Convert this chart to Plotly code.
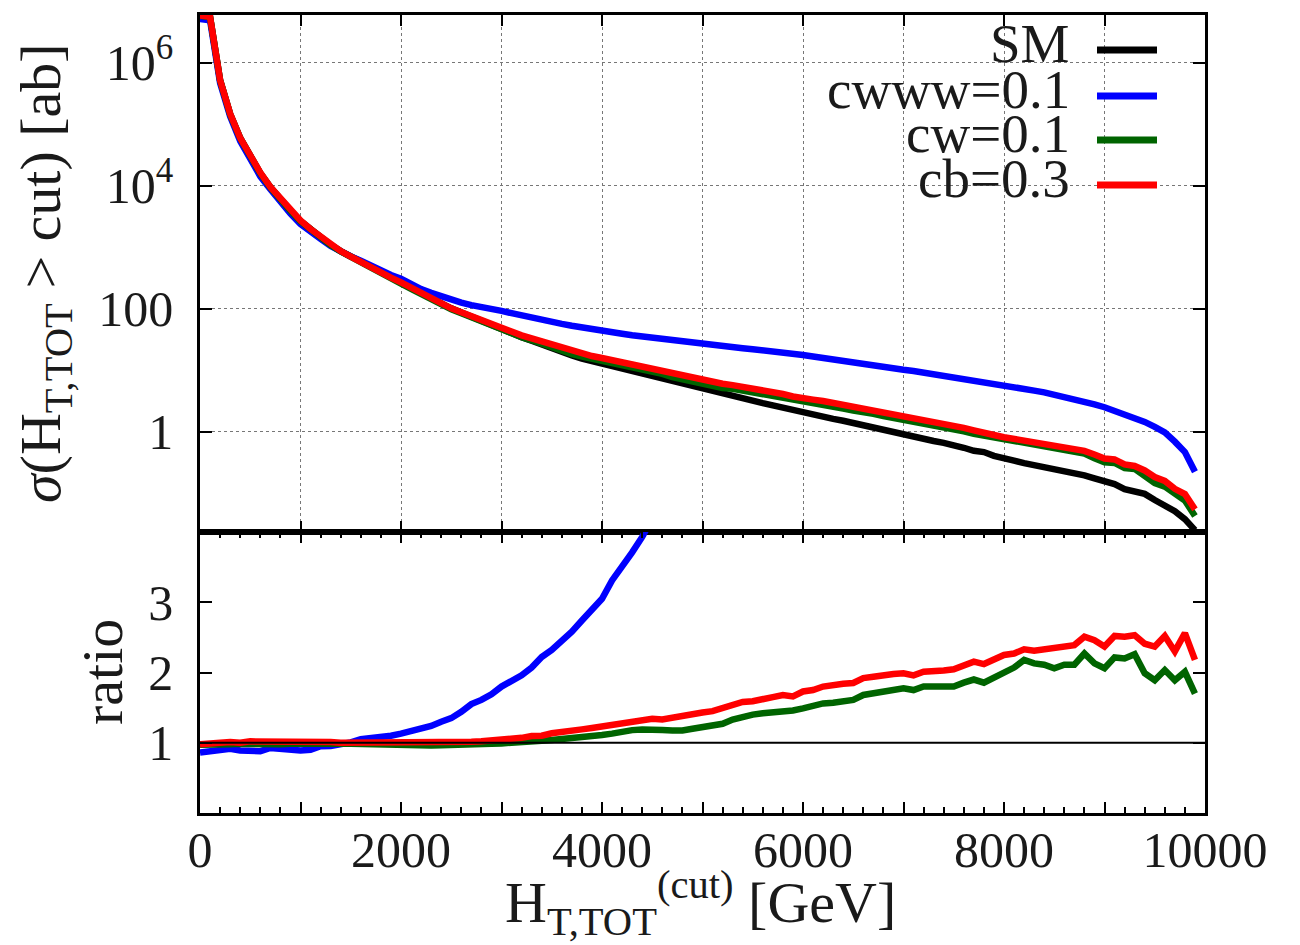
import plotly.graph_objects as go

# ---------------- data ----------------
ht_cut = list(range(0, 10000, 100))  # H_T,TOT cut values [GeV]

sm = [6.03e6, 5.62e6, 5.25e5, 1.48e5, 6.03e4, 2.95e4, 1.62e4, 9550, 6030, 3980,
      2690, 1950, 1450, 1100, 871, 708, 575, 468, 389, 324,
      269, 219, 178, 148, 123, 102, 87.1, 74.1, 63.1, 54.3,
      46.8, 40.3, 34.7, 30.2, 26.0, 22.6, 19.7, 17.4, 15.5, 14.1,
      12.9, 11.7, 10.7, 9.77, 9.02, 8.22, 7.41, 6.61, 6.03, 5.43,
      4.90, 4.47, 4.07, 3.76, 3.43, 3.16, 2.92, 2.69, 2.45, 2.26,
      2.09, 1.91, 1.76, 1.62, 1.51, 1.38, 1.26, 1.15, 1.05, 0.966,
      0.891, 0.841, 0.776, 0.708, 0.661, 0.617, 0.550, 0.490, 0.468, 0.407,
      0.363, 0.339, 0.309, 0.288, 0.269, 0.251, 0.234, 0.216, 0.195, 0.174,
      0.155, 0.141, 0.117, 0.110, 0.0977, 0.0776, 0.0631, 0.0513, 0.0380, 0.0251]

cwww = [5.19e6, 4.95e6, 4.73e5, 1.35e5, 5.37e4, 2.60e4, 1.43e4, 8830, 5490, 3540,
        2390, 1760, 1380, 1050, 845, 712, 604, 498, 418, 356,
        309, 251, 209, 182, 158, 140, 126, 115, 105, 97.7,
        92.7, 85.1, 77.6, 71.6, 66.1, 61.0, 56.9, 53.1, 49.5, 46.6,
        43.9, 41.7, 39.4, 37.3, 35.5, 33.9, 32.7, 30.9, 29.5, 28.2,
        27.0, 26.0, 24.8, 23.9, 22.9, 22.0, 21.3, 20.5, 19.6, 18.7,
        17.8, 16.8, 15.8, 15.1, 14.3, 13.5, 12.7, 12.0, 11.5, 10.8,
        10.2, 9.77, 9.23, 8.71, 8.22, 7.76, 7.33, 6.92, 6.53, 6.17,
        5.82, 5.43, 5.07, 4.68, 4.37, 4.03, 3.72, 3.39, 3.09, 2.79,
        2.51, 2.21, 1.95, 1.68, 1.45, 1.20, 0.977, 0.692, 0.468, 0.224]

cw = [5.85e6, 5.51e6, 5.20e5, 1.45e5, 5.94e4, 2.89e4, 1.60e4, 9450, 5910, 3920,
      2660, 1930, 1440, 1090, 862, 697, 564, 459, 379, 311,
      258, 211, 172, 142, 119, 98.4, 84.5, 72.2, 61.8, 53.5,
      46.3, 40.1, 34.7, 30.8, 26.8, 23.5, 20.7, 18.4, 16.7, 15.4,
      14.3, 13.2, 12.4, 11.5, 10.7, 9.82, 8.74, 7.77, 7.09, 6.52,
      6.03, 5.63, 5.17, 5.00, 4.70, 4.42, 4.15, 3.85, 3.53, 3.30,
      3.11, 2.92, 2.75, 2.54, 2.39, 2.22, 2.12, 1.96, 1.81, 1.69,
      1.58, 1.47, 1.40, 1.27, 1.18, 1.11, 1.02, 0.931, 0.868, 0.783,
      0.733, 0.702, 0.674, 0.613, 0.568, 0.517, 0.494, 0.456, 0.443, 0.371,
      0.319, 0.312, 0.257, 0.249, 0.194, 0.147, 0.128, 0.0970, 0.0764, 0.0427]

cb = [5.91e6, 5.62e6, 5.25e5, 1.49e5, 6.03e4, 3.01e4, 1.65e4, 9650, 6150, 4060,
      2740, 1990, 1490, 1110, 871, 708, 575, 468, 389, 322,
      269, 219, 178, 147, 123, 102, 88.0, 75.2, 64.4, 55.9,
      49.1, 42.7, 37.1, 33.1, 28.6, 25.7, 22.9, 20.4, 18.4, 17.1,
      15.9, 14.6, 13.7, 12.7, 12.0, 11.0, 9.86, 8.99, 8.32, 7.60,
      7.01, 6.48, 6.06, 5.75, 5.42, 5.02, 4.70, 4.44, 4.12, 3.75,
      3.62, 3.34, 3.17, 2.96, 2.78, 2.55, 2.42, 2.23, 2.06, 1.91,
      1.77, 1.65, 1.56, 1.44, 1.34, 1.26, 1.16, 1.056, 0.992, 0.887,
      0.817, 0.770, 0.720, 0.665, 0.627, 0.587, 0.556, 0.516, 0.489, 0.428,
      0.367, 0.355, 0.294, 0.278, 0.235, 0.184, 0.159, 0.118, 0.0973, 0.0547]

ratio_cwww = [0.86, 0.88, 0.90, 0.915, 0.89, 0.88, 0.88, 0.925, 0.91, 0.89,
              0.89, 0.90, 0.95, 0.955, 0.97, 1.005, 1.05, 1.065, 1.075, 1.10,
              1.13, 1.16, 1.20, 1.24, 1.30, 1.35, 1.44, 1.55, 1.61, 1.69,
              1.80, 1.88, 1.96, 2.07, 2.22, 2.32, 2.44, 2.58, 2.74, 2.88,
              3.05, 3.31, 3.50, 3.71, 3.93, 4.17, 4.40, 4.73, 4.95, 5.25,
              5.62, 5.89, 6.17, 6.46, 6.76, 7.00, 7.33, 7.59, 7.94, 8.22,
              8.51, 8.81, 9.00, 9.33, 9.44, 9.77, 10.1, 10.5, 11.0, 11.2,
              11.5, 11.6, 11.9, 12.3, 12.4, 12.6, 13.3, 14.1, 14.0, 15.1,
              16.0, 16.0, 16.4, 16.2, 16.2, 16.0, 15.8, 15.7, 15.8, 16.0,
              16.2, 15.7, 16.6, 15.3, 14.8, 15.5, 15.5, 13.5, 12.3, 8.9]

ratio_cw = [0.97, 0.98, 0.99, 0.98, 0.985, 0.98, 0.985, 0.99, 0.98, 0.985,
            0.99, 0.99, 0.995, 0.99, 0.99, 0.985, 0.98, 0.98, 0.975, 0.96,
            0.96, 0.965, 0.965, 0.96, 0.965, 0.965, 0.97, 0.975, 0.98, 0.985,
            0.99, 0.995, 1.0, 1.02, 1.03, 1.04, 1.05, 1.06, 1.075, 1.09,
            1.11, 1.13, 1.16, 1.18, 1.19, 1.195, 1.18, 1.175, 1.175, 1.20,
            1.23, 1.26, 1.27, 1.33, 1.37, 1.40, 1.42, 1.43, 1.44, 1.46,
            1.49, 1.53, 1.56, 1.57, 1.58, 1.61, 1.68, 1.70, 1.72, 1.75,
            1.775, 1.75, 1.80, 1.80, 1.79, 1.80, 1.855, 1.90, 1.855, 1.925,
            2.02, 2.07, 2.18, 2.13, 2.11, 2.06, 2.11, 2.11, 2.27, 2.13,
            2.06, 2.215, 2.20, 2.26, 1.99, 1.89, 2.035, 1.89, 2.01, 1.70]

ratio_cb = [0.98, 1.00, 1.0, 1.01, 1.0, 1.02, 1.02, 1.01, 1.02, 1.02,
            1.02, 1.02, 1.03, 1.01, 1.0, 1.0, 1.0, 1.0, 1.0, 0.995,
            1.0, 1.0, 1.0, 0.995, 1.0, 1.0, 1.01, 1.015, 1.02, 1.03,
            1.05, 1.06, 1.07, 1.095, 1.10, 1.135, 1.16, 1.17, 1.19, 1.21,
            1.23, 1.25, 1.28, 1.30, 1.33, 1.34, 1.33, 1.36, 1.38, 1.40,
            1.43, 1.45, 1.49, 1.53, 1.58, 1.59, 1.61, 1.65, 1.68, 1.66,
            1.73, 1.75, 1.80, 1.83, 1.84, 1.85, 1.92, 1.94, 1.965, 1.98,
            1.99, 1.96, 2.01, 2.03, 2.03, 2.045, 2.11, 2.155, 2.12, 2.18,
            2.25, 2.27, 2.33, 2.31, 2.33, 2.34, 2.375, 2.39, 2.51, 2.46,
            2.37, 2.52, 2.51, 2.53, 2.41, 2.37, 2.52, 2.30, 2.56, 2.18]

series_names = ["SM", "cwww=0.1", "cw=0.1", "cb=0.3"]
series_colors = ["#000000", "#0000ff", "#006400", "#ff0000"]

x_major = [0, 1000, 2000, 3000, 4000, 5000, 6000, 7000, 8000, 9000, 10000]
x_labels = ["0", "", "2000", "", "4000", "", "6000", "", "8000", "", "10000"]
y_top_ticks = [1, 100, 1e4, 1e6]
y_top_labels = ["1", "100", "10<sup>4</sup>", "10<sup>6</sup>"]
y_bot_ticks = [1, 2, 3]
y_bot_labels = ["1", "2", "3"]

# ---------------- figure ----------------
FONT = "Liberation Serif"
TXT = "#1a1a1a"
LW = 6.5
TITLE_SIZE = 58

fig = go.Figure()
top_data = [sm, cwww, cw, cb]
for name, col, vals in zip(series_names, series_colors, top_data):
    fig.add_trace(go.Scatter(x=ht_cut, y=vals, mode="lines", name=name,
                             line=dict(color=col, width=LW),
                             xaxis="x", yaxis="y", showlegend=False))
ratio_data = [ratio_cwww, ratio_cw, ratio_cb]
for name, col, vals in zip(series_names[1:], series_colors[1:], ratio_data):
    fig.add_trace(go.Scatter(x=ht_cut, y=vals, mode="lines", name=name + " / SM",
                             line=dict(color=col, width=LW),
                             xaxis="x2", yaxis="y2", showlegend=False))

# geometry: target plot area on screen is x 200..1205, y 15..813
# (the page body adds an 8 px offset, compensated here)
OFF = 8
W, H = 1300, 945
PX0, PX1, PY0, PY1 = 200, 1205, 15, 813
PW, PH = PX1 - PX0, PY1 - PY0
L, T = PX0 - OFF, PY0 - OFF
R, B = W - L - PW, H - T - PH
split = (813 - 532) / PH


def px2x(px):
    return (px - PX0) / PW


def py2y(py):
    return (PY1 - py) / PH


axis_common = dict(
    range=[0, 10000], tickmode="array", tickvals=x_major,
    ticks="inside", ticklen=11, tickwidth=2,
    tickcolor="black", showline=True, linewidth=2.5, linecolor="black",
    mirror="ticks", zeroline=False, automargin=False,
)
minor_ticks = dict(tickmode="linear", tick0=0, dtick=200, ticks="inside", ticklen=6,
                   tickwidth=1.5, tickcolor="black", showgrid=False)

fig.update_layout(
    template="none",
    width=W, height=H,
    margin=dict(l=L, r=R, t=T, b=B, autoexpand=False),
    paper_bgcolor="white", plot_bgcolor="white",
    font=dict(family=FONT, color=TXT, size=50),
    xaxis=dict(domain=[0, 1], anchor="y", showticklabels=False,
               showgrid=True, gridcolor="#777777", griddash="dot", gridwidth=1.3,
               **axis_common),
    yaxis=dict(domain=[split, 1], anchor="x", type="log", range=[-1.63, 6.78],
               tickvals=y_top_ticks, ticktext=y_top_labels,
               ticks="inside", ticklen=12, tickwidth=2, tickcolor="black",
               showline=True, linewidth=2.5, linecolor="black", mirror="ticks",
               showgrid=True, gridcolor="#777777", griddash="dot", gridwidth=1.3,
               zeroline=False, automargin=False,
               tickfont=dict(size=50, family=FONT, color=TXT),
               ticklabelstandoff=14),
    xaxis2=dict(domain=[0, 1], anchor="y2", ticktext=x_labels, showgrid=False,
                tickfont=dict(size=50, family=FONT, color=TXT),
                ticklabelstandoff=-9, minor=minor_ticks, **axis_common),
    yaxis2=dict(domain=[0, split], anchor="x2", range=[0, 4],
                tickvals=y_bot_ticks, ticktext=y_bot_labels,
                ticks="inside", ticklen=12, tickwidth=2, tickcolor="black",
                showline=True, linewidth=2.5, linecolor="black", mirror="ticks",
                showgrid=False, zeroline=False, automargin=False,
                tickfont=dict(size=50, family=FONT, color=TXT),
                ticklabelstandoff=14),
)

# reference line at ratio = 1
fig.add_shape(type="line", xref="x2 domain", yref="y2", x0=0, x1=1, y0=1, y1=1,
              line=dict(color="black", width=1.8), layer="above")

# axis titles
fig.add_annotation(text="<i>σ</i>(H<sub>T,TOT</sub> > cut) [ab]", textangle=-90,
                   xref="paper", yref="paper", x=px2x(44), y=py2y(273),
                   xanchor="center", yanchor="middle", showarrow=False,
                   font=dict(size=TITLE_SIZE, family=FONT, color=TXT))
fig.add_annotation(text="ratio", textangle=-90,
                   xref="paper", yref="paper", x=px2x(102), y=py2y(672),
                   xanchor="center", yanchor="middle", showarrow=False,
                   font=dict(size=TITLE_SIZE, family=FONT, color=TXT))
fig.add_annotation(text="H<sub>T,TOT</sub><sup>(cut)</sup> [GeV]",
                   xref="paper", yref="paper", x=px2x(700), y=py2y(903),
                   xanchor="center", yanchor="middle", showarrow=False,
                   font=dict(size=TITLE_SIZE, family=FONT, color=TXT))

# legend (opaque key box, right-aligned labels, samples on the right)
fig.add_shape(type="rect", xref="paper", yref="paper",
              x0=px2x(873), x1=px2x(1182), y0=py2y(212), y1=py2y(28),
              fillcolor="white", line=dict(width=0), layer="between")
legend_rows = [50, 96, 140, 185]
for name, col, ry in zip(series_names, series_colors, legend_rows):
    fig.add_annotation(text=name, xref="paper", yref="paper",
                       x=px2x(1072), y=py2y(ry - 7), xanchor="right", yanchor="middle",
                       showarrow=False, font=dict(size=55, family=FONT, color=TXT))
    fig.add_shape(type="line", xref="paper", yref="paper",
                  x0=px2x(1097), x1=px2x(1157), y0=py2y(ry), y1=py2y(ry),
                  line=dict(color=col, width=7), layer="above")

fig.write_html("out.html")
